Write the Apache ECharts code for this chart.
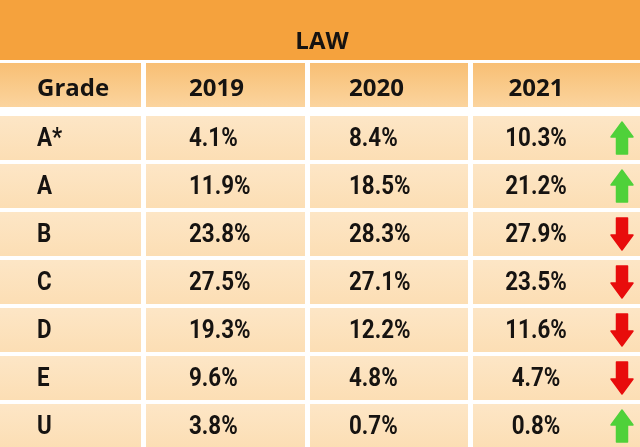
<!DOCTYPE html>
<html>
<head>
<meta charset="utf-8">
<script src="https://cdn.jsdelivr.net/npm/echarts@6/dist/echarts.min.js"></script>
<style>
  html, body { margin: 0; padding: 0; background: #fff; }
  #main { width: 640px; height: 447px; }
</style>
</head>
<body>
<div id="main"></div>
<script>
// table content
var tableTitle = 'LAW';
var firstHeader = 'Grade';
var years = ['2019', '2020', '2021'];
var grades = ['A*', 'A', 'B', 'C', 'D', 'E', 'U'];
var v2019 = [4.1, 11.9, 23.8, 27.5, 19.3, 9.6, 3.8];
var v2020 = [8.4, 18.5, 28.3, 27.1, 12.2, 4.8, 0.7];
var v2021 = [10.3, 21.2, 27.9, 23.5, 11.6, 4.7, 0.8];

// layout (axis units = pixels of the picture)
var colLeft = [0, 146, 310, 473];
var colRight = [141, 305, 468, 640];
var textX = [37, 189, 349, 536];
var textAlign = ['left', 'left', 'left', 'center'];
var arrowX = 622;
var rowTop = function (r) { return r < 0 ? 63 : 116 + r * 48; };
var rowH = 44;

var numFont = 'bold 26px Roboto, "DejaVu Sans", sans-serif';
var headFont = 'bold 24px "Open Sans", Lato, sans-serif';

// build the cells: [col, row, text, trend]
var cells = [];
cells.push([0, -1, firstHeader, 0]);
years.forEach(function (y, i) { cells.push([i + 1, -1, y, 0]); });
grades.forEach(function (g, r) {
    var trend = v2021[r] > v2020[r] ? 1 : (v2021[r] < v2020[r] ? -1 : 0);
    cells.push([0, r, g, 0]);
    cells.push([1, r, v2019[r].toFixed(1) + '%', 0]);
    cells.push([2, r, v2020[r].toFixed(1) + '%', 0]);
    cells.push([3, r, v2021[r].toFixed(1) + '%', trend]);
});

var chart = echarts.init(document.getElementById('main'), null, { renderer: 'canvas' });

function renderCell(params, api) {
    var c = cells[params.dataIndex];
    var col = c[0], row = c[1];
    var p0 = api.coord([colLeft[col], rowTop(row)]);
    var p1 = api.coord([colRight[col], rowTop(row) + rowH]);
    var tx = api.coord([textX[col], 0])[0];
    var cy = (p0[1] + p1[1]) / 2;
    var header = row < 0;
    var children = [{
        type: 'rect',
        shape: { x: p0[0], y: p0[1], width: p1[0] - p0[0], height: p1[1] - p0[1] },
        style: {
            fill: header
                ? new echarts.graphic.LinearGradient(0, 0, 0, 1, [
                    { offset: 0, color: '#f8bf74' },
                    { offset: 1, color: '#fbd49e' }])
                : new echarts.graphic.LinearGradient(0, 0, 0, 1, [
                    { offset: 0, color: '#fde6c6' },
                    { offset: 1, color: '#fcdeb4' }])
        }
    }, {
        type: 'text',
        x: tx,
        y: header ? cy + 4 : cy + 1,
        // the source face is a narrow DIN-like type, so squeeze the numbers
        scaleX: header ? 1 : 0.86,
        style: {
            x: 0, y: 0,
            text: c[2],
            align: textAlign[col],
            verticalAlign: 'middle',
            font: header ? headFont : numFont,
            fill: '#161311'
        }
    }];
    if (c[3] !== 0) {
        var ax = api.coord([arrowX, 0])[0];
        var t = cy - 16, b = cy + 16;
        var pts = c[3] > 0
            ? [[ax, t], [ax + 11, t + 15], [ax + 5.5, t + 15], [ax + 5.5, b], [ax - 5.5, b], [ax - 5.5, t + 15], [ax - 11, t + 15]]
            : [[ax, b], [ax + 11, b - 15], [ax + 5.5, b - 15], [ax + 5.5, t], [ax - 5.5, t], [ax - 5.5, b - 15], [ax - 11, b - 15]];
        children.push({
            type: 'polygon',
            shape: { points: pts },
            style: {
                fill: c[3] > 0 ? '#4fd13a' : '#e80c0c',
                stroke: c[3] > 0 ? '#4fd13a' : '#e80c0c',
                lineWidth: 1.5,
                lineJoin: 'round'
            }
        });
    }
    return { type: 'group', children: children };
}

function renderTitle(params, api) {
    var p0 = api.coord([0, 0]);
    var p1 = api.coord([640, 60]);
    return {
        type: 'group',
        children: [{
            type: 'rect',
            shape: { x: p0[0], y: p0[1], width: p1[0] - p0[0], height: p1[1] - p0[1] },
            style: { fill: '#f5a23d' }
        }, {
            type: 'text',
            style: {
                x: api.coord([322, 0])[0], y: api.coord([0, 42])[1],
                text: tableTitle,
                align: 'center',
                verticalAlign: 'middle',
                font: headFont,
                fill: '#161311'
            }
        }]
    };
}

var option = {
    animation: false,
    backgroundColor: '#ffffff',
    grid: { left: 0, right: 0, top: 0, bottom: 0 },
    xAxis: { type: 'value', min: 0, max: 640, show: false },
    yAxis: { type: 'value', min: 0, max: 447, inverse: true, show: false },
    series: [{
        type: 'custom',
        renderItem: renderTitle,
        data: [[0, 0]],
        silent: true
    }, {
        type: 'custom',
        renderItem: renderCell,
        data: cells.map(function (c) { return [colLeft[c[0]], rowTop(c[1])]; }),
        silent: true
    }]
};
chart.setOption(option);
</script>
</body>
</html>
